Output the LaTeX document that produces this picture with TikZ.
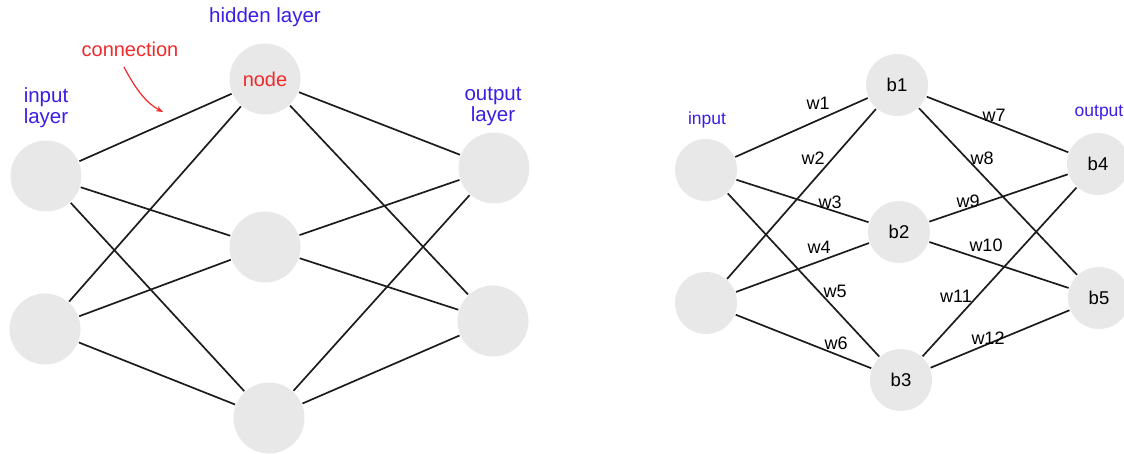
\documentclass[tikz,border=0pt]{standalone}
\usepackage{fontspec}
\setmainfont{Liberation Sans}
\usetikzlibrary{arrows.meta}
\definecolor{nodegray}{HTML}{E8E8E8}
\definecolor{lblue}{HTML}{3A1EE6}
\definecolor{lred}{HTML}{F02A2A}
\definecolor{edgec}{HTML}{1C1C1C}
\begin{document}
\begin{tikzpicture}[x=1pt,y=-1pt,
  bigc/.style={circle,fill=nodegray,minimum size=71pt,inner sep=0pt,outer sep=1pt,font=\fontsize{20}{24}\selectfont},
  smallc/.style={circle,fill=nodegray,minimum size=62pt,inner sep=0pt,outer sep=1pt,font=\fontsize{18.5}{21}\selectfont},
  conn/.style={draw=edgec,line width=1.7pt},
  bluetxt/.style={text=lblue,font=\fontsize{20.5}{21}\selectfont,align=center,inner sep=0pt},
  bluesm/.style={text=lblue,font=\fontsize{17.5}{20}\selectfont,inner sep=0pt},
  wlbl/.style={font=\fontsize{18}{20}\selectfont,inner sep=0pt},
]
\useasboundingbox (0,0) rectangle (1124,454);

% ---------- left network ----------
\node[bigc] (i1) at (46,176) {};
\node[bigc] (i2) at (45,329) {};
\node[bigc,text=lred] (h1) at (265,79) {node};
\node[bigc] (h2) at (265,247) {};
\node[bigc] (h3) at (269,418) {};
\node[bigc] (o1) at (494,168) {};
\node[bigc] (o2) at (493,321) {};

\foreach \a in {i1,i2}
  \foreach \b in {h1,h2,h3}
    \draw[conn] (\a) -- (\b);
\foreach \a in {h1,h2,h3}
  \foreach \b in {o1,o2}
    \draw[conn] (\a) -- (\b);

\node[bluetxt] (hl) at (265,17) {hidden layer};
\node[bluetxt] (il) at (46,108) {input\\layer};
\node[bluetxt] (ol) at (493,107) {output\\layer};
\node[text=lred,font=\fontsize{20}{24}\selectfont,inner sep=0pt] (cl) at (130,49) {connection};
\coordinate (cs) at (124,67);
\coordinate (ce) at (163,112);
\draw[lred,line width=1.2pt,-{Stealth[length=7pt,width=5.5pt]}] (cs) .. controls (137,92) and (148,104) .. (ce);

% ---------- right network ----------
\node[smallc] (x1) at (706,170) {};
\node[smallc] (x2) at (706,303) {};
\node[smallc] (b1) at (897,85) {b1};
\node[smallc] (b2) at (899,232) {b2};
\node[smallc] (b3) at (901,380) {b3};
\node[smallc] (b4) at (1098,164) {b4};
\node[smallc] (b5) at (1099,298) {b5};

\foreach \a in {x1,x2}
  \foreach \b in {b1,b2,b3}
    \draw[conn] (\a) -- (\b);
\foreach \a in {b1,b2,b3}
  \foreach \b in {b4,b5}
    \draw[conn] (\a) -- (\b);

\node[bluesm] (inl) at (707,120) {input};
\node[bluesm] (outl) at (1099,113) {output};

\node[wlbl] (w1) at (818,103) {w1};
\node[wlbl] (w2) at (813,158) {w2};
\node[wlbl] (w3) at (830,202) {w3};
\node[wlbl] (w4) at (819,247) {w4};
\node[wlbl] (w5) at (835,291) {w5};
\node[wlbl] (w6) at (836,343) {w6};
\node[wlbl] (w7) at (994,115) {w7};
\node[wlbl] (w8) at (982,158) {w8};
\node[wlbl] (w9) at (968,201) {w9};
\node[wlbl] (w10) at (986,245) {w10};
\node[wlbl] (w11) at (956,296) {w11};
\node[wlbl] (w12) at (988,338) {w12};
\end{tikzpicture}
\end{document}
